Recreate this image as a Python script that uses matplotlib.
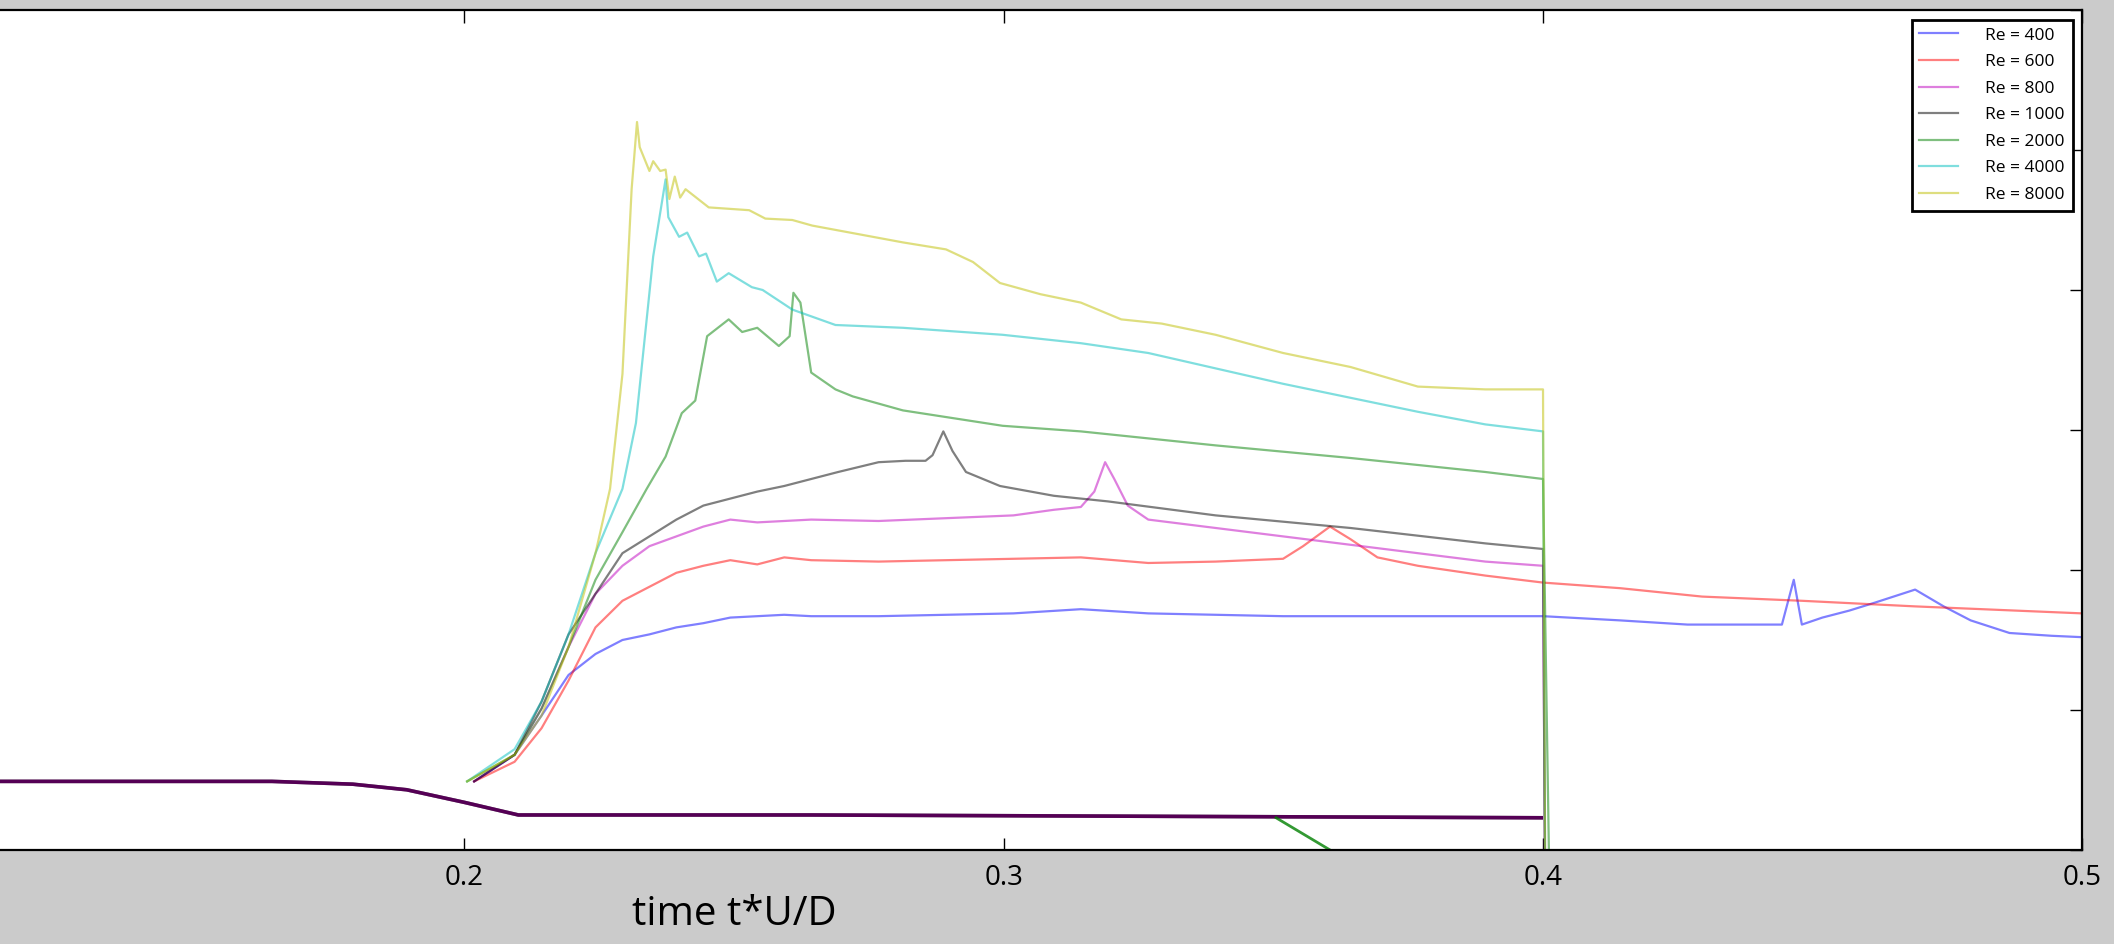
import matplotlib
matplotlib.use('Agg')
import matplotlib.pyplot as plt

plt.rcParams['font.family'] = ['Open Sans', 'DejaVu Sans']

# time t*U/D and curve values (arbitrary units)
t_400 = [0.2018, 0.2093, 0.2143, 0.2193, 0.2243, 0.2293, 0.2343, 0.2393, 0.2443, 0.2493,
         0.2543, 0.2593, 0.2643, 0.2768, 0.2893, 0.3018, 0.3143, 0.3268, 0.3393, 0.3518,
         0.3643, 0.3768, 0.3893, 0.4, 0.4143, 0.4268, 0.4443, 0.4465, 0.4480, 0.4518,
         0.4568, 0.4618, 0.4690, 0.4743, 0.4793, 0.4865, 0.4943, 0.5]
y_400 = [0.49, 0.68, 0.96, 1.25, 1.40, 1.50, 1.54, 1.59, 1.62, 1.66,
         1.67, 1.68, 1.67, 1.67, 1.68, 1.69, 1.72, 1.69, 1.68, 1.67,
         1.67, 1.67, 1.67, 1.67, 1.64, 1.61, 1.61, 1.93, 1.61, 1.66,
         1.71, 1.77, 1.86, 1.74, 1.64, 1.55, 1.53, 1.52]

t_600 = [0.2018, 0.2093, 0.2143, 0.2193, 0.2243, 0.2293, 0.2343, 0.2393, 0.2443, 0.2493,
         0.2543, 0.2593, 0.2643, 0.2768, 0.2893, 0.3018, 0.3143, 0.3268, 0.3393, 0.3518,
         0.3555, 0.3605, 0.3643, 0.3693, 0.3768, 0.3893, 0.4, 0.4143, 0.4295, 0.4480,
         0.4690, 0.5]
y_600 = [0.49, 0.63, 0.87, 1.21, 1.59, 1.78, 1.88, 1.98, 2.03, 2.07,
         2.04, 2.09, 2.07, 2.06, 2.07, 2.08, 2.09, 2.05, 2.06, 2.08,
         2.17, 2.31, 2.22, 2.09, 2.03, 1.96, 1.91, 1.87, 1.81, 1.78,
         1.74, 1.69]

t_800 = [0.2018, 0.2093, 0.2143, 0.2193, 0.2243, 0.2293, 0.2343, 0.2393, 0.2443, 0.2493,
         0.2543, 0.2643, 0.2768, 0.2893, 0.3018, 0.3093, 0.3143, 0.3168, 0.3188, 0.3205,
         0.3230, 0.3268, 0.3393, 0.3518, 0.3643, 0.3768, 0.3893, 0.4, 0.4005]
y_800 = [0.49, 0.68, 1.01, 1.45, 1.83, 2.03, 2.17, 2.24, 2.31, 2.36,
         2.34, 2.36, 2.35, 2.37, 2.39, 2.43, 2.45, 2.56, 2.77, 2.65,
         2.46, 2.36, 2.30, 2.24, 2.18, 2.12, 2.06, 2.03, -1.0]

t_1000 = [0.2018, 0.2093, 0.2143, 0.2193, 0.2243, 0.2293, 0.2343, 0.2393, 0.2443, 0.2493,
          0.2543, 0.2593, 0.2643, 0.2693, 0.2768, 0.2818, 0.2855, 0.2868, 0.2888, 0.2905,
          0.2930, 0.2993, 0.3093, 0.3193, 0.3393, 0.3643, 0.3893, 0.4, 0.4005]
y_1000 = [0.49, 0.68, 1.06, 1.54, 1.83, 2.12, 2.24, 2.36, 2.46, 2.51,
          2.56, 2.60, 2.65, 2.70, 2.77, 2.78, 2.78, 2.82, 2.99, 2.85,
          2.70, 2.60, 2.53, 2.49, 2.39, 2.30, 2.19, 2.15, -1.0]

t_2000 = [0.2005, 0.2093, 0.2143, 0.2193, 0.2243, 0.2293, 0.2338, 0.2373, 0.2403, 0.2428,
          0.2450, 0.2490, 0.2515, 0.2543, 0.2583, 0.2603, 0.2610, 0.2623, 0.2643, 0.2688,
          0.2720, 0.2813, 0.2998, 0.3143, 0.3393, 0.3643, 0.3893, 0.4, 0.4015]
y_2000 = [0.49, 0.68, 1.01, 1.45, 1.93, 2.27, 2.58, 2.81, 3.12, 3.21,
          3.67, 3.79, 3.70, 3.73, 3.60, 3.67, 3.98, 3.91, 3.41, 3.29,
          3.24, 3.14, 3.03, 2.99, 2.89, 2.80, 2.70, 2.65, -1.0]

t_4000 = [0.2005, 0.2093, 0.2143, 0.2193, 0.2243, 0.2293, 0.2318, 0.2350, 0.2373, 0.2378,
          0.2398, 0.2413, 0.2435, 0.2448, 0.2468, 0.2490, 0.2533, 0.2553, 0.2608, 0.2688,
          0.2813, 0.2998, 0.3143, 0.3268, 0.3393, 0.3518, 0.3643, 0.3768, 0.3893, 0.4, 0.4005]
y_4000 = [0.49, 0.72, 1.06, 1.54, 2.12, 2.58, 3.05, 4.24, 4.79, 4.52,
          4.38, 4.41, 4.24, 4.26, 4.06, 4.12, 4.02, 4.00, 3.86, 3.75,
          3.73, 3.68, 3.62, 3.55, 3.44, 3.33, 3.23, 3.13, 3.04, 2.99, -1.0]

t_8000 = [0.2005, 0.2093, 0.2143, 0.2193, 0.2243, 0.2270, 0.2293, 0.2310, 0.2320, 0.2325,
          0.2343, 0.2350, 0.2363, 0.2373, 0.2380, 0.2390, 0.2400, 0.2410, 0.2453, 0.2528,
          0.2558, 0.2608, 0.2645, 0.2813, 0.2893, 0.2943, 0.2993, 0.3068, 0.3143, 0.3218,
          0.3293, 0.3393, 0.3518, 0.3643, 0.3768, 0.3893, 0.4, 0.4005]
y_8000 = [0.49, 0.68, 0.96, 1.45, 2.12, 2.58, 3.40, 4.72, 5.20, 5.02,
          4.85, 4.92, 4.85, 4.86, 4.65, 4.81, 4.66, 4.72, 4.59, 4.57,
          4.51, 4.50, 4.46, 4.34, 4.29, 4.20, 4.05, 3.97, 3.91, 3.79,
          3.76, 3.68, 3.55, 3.45, 3.31, 3.29, 3.29, -1.0]

# lower curves, all Re lying on top of each other
t_base = [0.0, 0.1643, 0.1793, 0.1893, 0.2, 0.21, 0.2643, 0.4]
y_base = [0.49, 0.49, 0.47, 0.43, 0.34, 0.25, 0.25, 0.23]
t_low_2000 = [0.3505, 0.3605, 0.37]
y_low_2000 = [0.23, 0.0, -0.2]

labels = ['Re = 400', 'Re = 600', 'Re = 800', 'Re = 1000', 'Re = 2000', 'Re = 4000', 'Re = 8000']
colors = ['b', 'r', 'm', 'k', 'g', 'c', 'y']
times = [t_400, t_600, t_800, t_1000, t_2000, t_4000, t_8000]
values = [y_400, y_600, y_800, y_1000, y_2000, y_4000, y_8000]

fig = plt.figure(figsize=(21.14, 9.44), dpi=100, facecolor='#cbcbcb')
ax = fig.add_axes([-0.2905, 0.0996, 1.2755, 0.8898])
ax.set_facecolor('white')

ax.plot(t_base, y_base, color='k', lw=2.6, solid_capstyle='butt')
ax.plot(t_base, y_base, color='m', lw=2.6, alpha=0.45, solid_capstyle='butt')
ax.plot(t_low_2000, y_low_2000, color='g', lw=2.0, alpha=0.8)

for t, y, c, lab in zip(times, values, colors, labels):
    ax.plot(t, y, color=c, lw=1.6, alpha=0.5, label=lab)

ax.set_xlim(0, 0.5)
ax.set_ylim(0, 6)
# ticks left of 0.2 fall outside the cropped picture
ax.set_xticks([0.2, 0.3, 0.4, 0.5])
ax.set_xticklabels(['0.2', '0.3', '0.4', '0.5'])
ax.set_yticks([0, 1, 2, 3, 4, 5, 6])
ax.tick_params(direction='in', length=9, width=1, top=True, right=True,
               labelsize=20, pad=10)
ax.tick_params(axis='y', labelleft=False)
for s in ax.spines.values():
    s.set_linewidth(1.6)

ax.set_xlabel('time t*U/D', fontsize=29, labelpad=2)

leg = ax.legend(loc='upper right', fontsize=12.5, fancybox=False, framealpha=1,
                edgecolor='k', labelspacing=0.6, handlelength=2.2,
                handletextpad=1.6, borderaxespad=0.55, borderpad=0.45)
leg.get_frame().set_linewidth(2)
for line in leg.get_lines():
    line.set_linewidth(1.6)

plt.savefig('out.png', dpi=100, facecolor=fig.get_facecolor())
